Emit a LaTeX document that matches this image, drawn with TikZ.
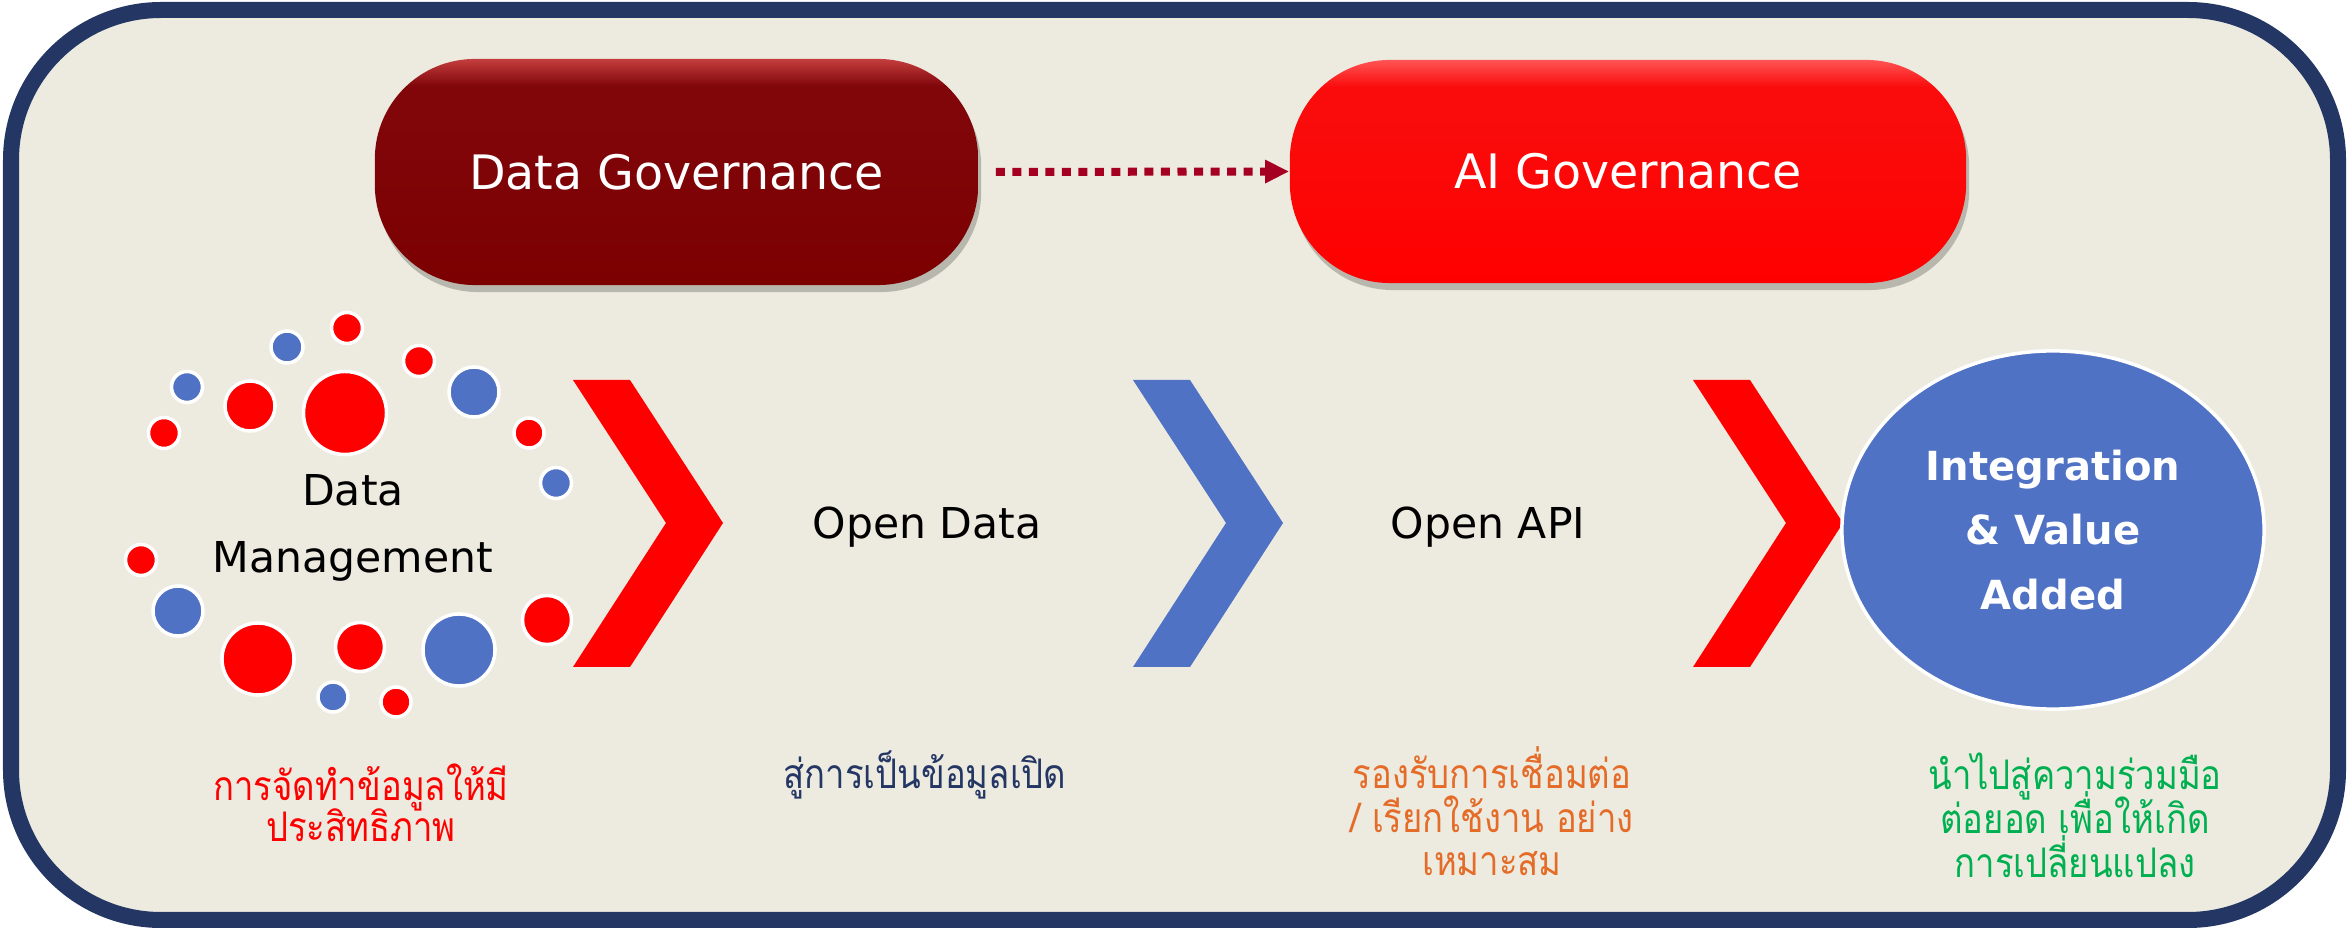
\documentclass[tikz,border=0pt]{standalone}
\usepackage{fontspec}
\setmainfont{DejaVu Sans}
\newfontfamily\thaifont[Script=Thai, FakeStretch=0.85]{Loma}
\usetikzlibrary{arrows.meta,shadows,shapes.geometric}

\definecolor{navy}{RGB}{36,54,100}
\definecolor{beige}{RGB}{237,235,224}
\definecolor{cblue}{RGB}{79,114,196}
\definecolor{cred}{RGB}{255,0,0}
\definecolor{dgtop}{RGB}{196,62,62}
\definecolor{dgbase}{RGB}{128,6,10}
\definecolor{dgbot}{RGB}{124,0,0}
\definecolor{aitop}{RGB}{255,84,84}
\definecolor{aibase}{RGB}{250,12,12}
\definecolor{aibot}{RGB}{255,0,0}
\definecolor{arrowred}{RGB}{165,0,33}
\definecolor{corange}{RGB}{228,108,40}
\definecolor{cgreen}{RGB}{0,176,80}

\pgfdeclareverticalshading{dgshade}{100bp}{color(0bp)=(dgbot); color(25bp)=(dgbot); color(62bp)=(dgbase); color(69bp)=(dgbase); color(75bp)=(dgtop); color(100bp)=(dgtop)}
\pgfdeclareverticalshading{aishade}{100bp}{color(0bp)=(aibot); color(25bp)=(aibot); color(62bp)=(aibase); color(69bp)=(aibase); color(75bp)=(aitop); color(100bp)=(aitop)}

\newcommand{\thaisize}[2]{\thaifont\fontsize{#1}{#2}\selectfont\lineskiplimit=-100pt\lineskip=0pt\relax}

\tikzset{
  pill/.style={rectangle, rounded corners=1cm, inner sep=0pt, text=white,
    font=\fontsize{13.5pt}{15pt}\selectfont,
    drop shadow={shadow xshift=0.03cm, shadow yshift=-0.07cm, opacity=0.22, fill=black}},
  dot/.style={circle, draw=white, line width=0.035cm, inner sep=0pt},
  steplabel/.style={anchor=base, text=black, font=\fontsize{12.1pt}{14pt}\selectfont},
  thailabel/.style={anchor=base, align=center, font=\thaisize{11.6pt}{12.5pt}},
}

\begin{document}
\begin{tikzpicture}[x=0.01cm, y=-0.01cm]
\useasboundingbox (0,0) rectangle (2348,928);

% frame
\draw[navy, line width=0.16cm, fill=beige, rounded corners=1.5cm] (11,10) rectangle (2338,920);

% governance pills
\node[pill, shading=dgshade, minimum width=6.03cm, minimum height=2.26cm] (dg) at (676.5,172) {Data Governance};
\node[pill, shading=aishade, minimum width=6.76cm, minimum height=2.23cm] (ai) at (1628,171.5) {AI Governance};
\draw[arrowred, line width=0.08cm, dash pattern=on 0.09cm off 0.075cm,
  -{Triangle[length=0.24cm,width=0.22cm]}, shorten <=0.17cm] (dg.east) -- (ai.west);

% dots around Data Management
\foreach \n/\x/\y/\d/\c in {
  1/187/387/0.31/cblue, 2/287/347/0.32/cblue, 3/347/328/0.31/cred, 4/419/361/0.31/cred,
  5/250/406/0.50/cred, 6/345/413/0.83/cred, 7/474/392/0.50/cblue, 8/164/433/0.31/cred,
  9/529/433/0.30/cred, 10/556/483/0.31/cblue, 11/141/560/0.31/cred, 12/178/611/0.50/cblue,
  13/258/659/0.72/cred, 14/360/647/0.49/cred, 15/459/650/0.72/cblue, 16/547/620/0.49/cred,
  17/333/697/0.30/cblue, 18/396/702/0.30/cred}
  \node[dot, fill=\c, minimum size=\d cm] (dot\n) at (\x,\y) {};

\node[align=center, text=black, font=\fontsize{12.1pt}{19.06pt}\selectfont] (dm) at (353,528) {Data\\Management};

% chevrons
\fill[cred] (573,380) -- (630,380) -- (723,523) -- (630,667) -- (573,667) -- (666,523) -- cycle;
\fill[cblue] (1133,380) -- (1190,380) -- (1283,523) -- (1190,667) -- (1133,667) -- (1226,523) -- cycle;
\fill[cred] (1693,380) -- (1750,380) -- (1843,523) -- (1750,667) -- (1693,667) -- (1786,523) -- cycle;

\node[steplabel] (od) at (927,539) {Open Data};
\node[steplabel] (oa) at (1488,539) {Open API};

\node[ellipse, fill=cblue, draw=white, line width=0.035cm, minimum width=4.22cm, minimum height=3.58cm,
  inner sep=0pt, align=center, text=white, font=\bfseries\fontsize{11.4pt}{18.35pt}\selectfont] (iv) at (2053,530)
  {Integration\\\& Value\\Added};

% Thai captions (base anchor = baseline of the last line)
\node[thailabel, text=cred, font=\thaisize{11.6pt}{11.9pt}] (t1) at (361,842) {การจัดทำข้อมูลให้มี\\ประสิทธิภาพ};
\node[thailabel, text=navy] (t2) at (925,789) {สู่การเป็นข้อมูลเปิด};
\node[thailabel, text=corange] (t3) at (1492,876) {รองรับการเชื่อมต่อ\\/ เรียกใช้งาน อย่าง\\เหมาะสม};
\node[thailabel, text=cgreen] (t4) at (2075,877) {นำไปสู่ความร่วมมือ\\ต่อยอด เพื่อให้เกิด\\การเปลี่ยนแปลง};
\end{tikzpicture}
\end{document}
